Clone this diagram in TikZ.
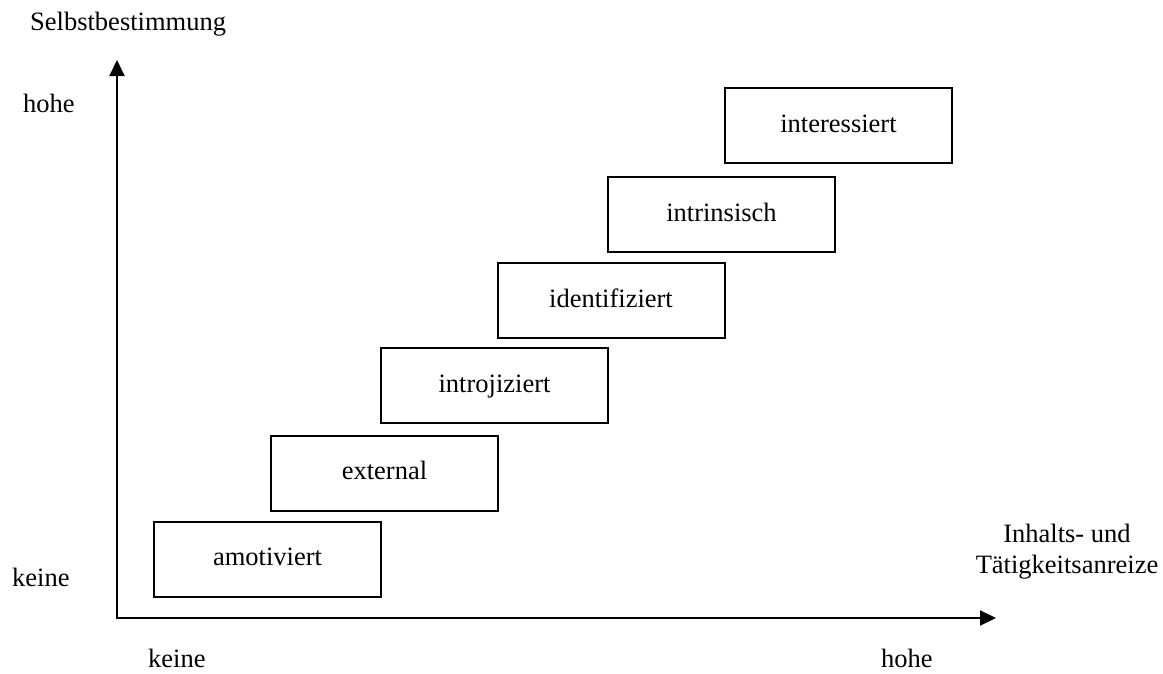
\documentclass[tikz,border=0pt]{standalone}
\usepackage{fontspec}
\setmainfont{Liberation Serif}
\usetikzlibrary{arrows.meta}
\tikzset{
  lvl/.style={draw=black, line width=2pt, minimum width=227pt, minimum height=75pt,
    inner sep=0pt, text height=16pt, text depth=3pt,
    font=\fontsize{26.5}{31}\selectfont},
  lab/.style={inner sep=0pt, font=\fontsize{26.5}{31}\selectfont},
  axis/.style={line width=2pt, {Triangle[length=16pt,width=15pt]}-{Triangle[length=16pt,width=15pt]}}
}
\begin{document}
\begin{tikzpicture}[x=1pt,y=-1pt]
\fill[white] (0,0) rectangle (1163,673);
\useasboundingbox (0,0) rectangle (1163,673);
\coordinate (origin) at (117,618);
\coordinate (ytip) at (117,60);
\coordinate (xtip) at (996,618);
\draw[axis] (ytip) -- (origin) -- (xtip);
\node[lab, anchor=base west] (ytitle) at (30,30) {Selbstbestimmung};
\node[lab, anchor=base west] (yhigh) at (23,112) {hohe};
\node[lab, anchor=base west] (ylow) at (12,586) {keine};
\node[lab, anchor=base west] (xlow) at (148,667) {keine};
\node[lab, anchor=base west] (xhigh) at (881,667) {hohe};
\node[lab, anchor=base, align=center] (xtitle) at (1067,573) {Inhalts- und\\Tätigkeitsanreize};
\node[lvl] (amot) at (267.5,559) {amotiviert};
\node[lvl] (ext) at (384.5,473) {external};
\node[lvl] (intro) at (494.5,385.5) {introjiziert};
\node[lvl] (ident) at (611,300.5) {identifiziert};
\node[lvl] (intr) at (721.5,214.5) {intrinsisch};
\node[lvl] (inter) at (838.5,125.5) {interessiert};
\end{tikzpicture}
\end{document}
